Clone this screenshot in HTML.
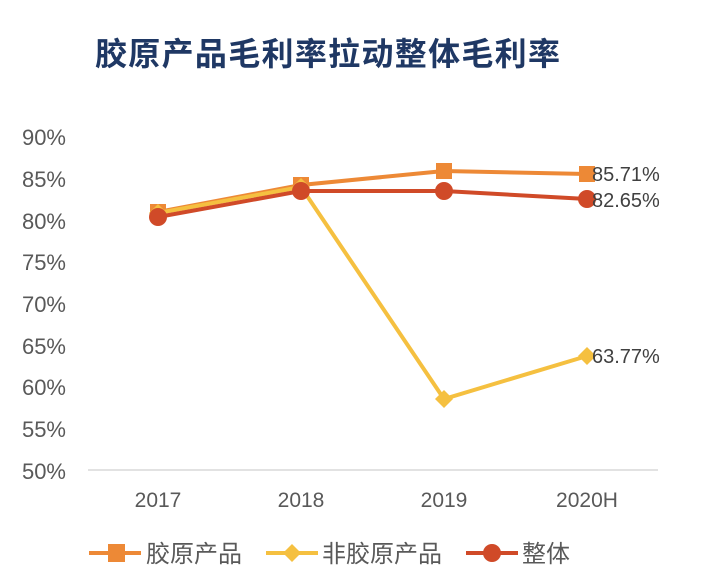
<!DOCTYPE html>
<html><head><meta charset="utf-8"><style>
body{margin:0;background:#fff;}
text{font-family:"Liberation Sans","Noto Sans CJK SC",sans-serif;}
</style></head><body>
<svg width="715" height="580" xmlns="http://www.w3.org/2000/svg">
<rect width="715" height="580" fill="#fff"/>
<text x="95" y="65" font-size="32" font-weight="bold" fill="#1f3864" font-family="'Noto Sans CJK SC',sans-serif" textLength="465">胶原产品毛利率拉动整体毛利率</text>
<g font-size="22" fill="#595959" text-anchor="end">
<text x="66" y="145">90%</text><text x="66" y="187">85%</text><text x="66" y="229">80%</text>
<text x="66" y="270">75%</text><text x="66" y="312">70%</text><text x="66" y="354">65%</text>
<text x="66" y="395">60%</text><text x="66" y="437">55%</text><text x="66" y="479">50%</text>
</g>
<line x1="88" y1="470" x2="658" y2="470" stroke="#d9d9d9" stroke-width="1.5"/>
<g font-size="21" fill="#595959" text-anchor="middle">
<text x="158" y="507">2017</text><text x="301" y="507">2018</text><text x="444" y="507">2019</text><text x="587" y="507">2020H</text>
</g>
<polyline points="158,212 301,185 444,171 587,174" fill="none" stroke="#ed8936" stroke-width="4"/>
<g fill="#ed8936"><rect x="150" y="204" width="16" height="16"/><rect x="293" y="177" width="16" height="16"/><rect x="436" y="163" width="16" height="16"/><rect x="579" y="166" width="16" height="16"/></g>
<polyline points="158,213 301,187 444,399 587,356" fill="none" stroke="#f5c040" stroke-width="4"/>
<g fill="#f5c040"><path d="M158,204 l9,9 -9,9 -9,-9z"/><path d="M301,178 l9,9 -9,9 -9,-9z"/><path d="M444,390 l9,9 -9,9 -9,-9z"/><path d="M587,347 l9,9 -9,9 -9,-9z"/></g>
<polyline points="158,217 301,191 444,191 587,199" fill="none" stroke="#d04a28" stroke-width="4"/>
<g fill="#d04a28"><circle cx="158" cy="217" r="9"/><circle cx="301" cy="191" r="9"/><circle cx="444" cy="191" r="9"/><circle cx="587" cy="199" r="9"/></g>
<g font-size="20" fill="#404040">
<text x="592" y="181">85.71%</text><text x="592" y="207">82.65%</text><text x="592" y="363">63.77%</text>
</g>
<line x1="89" y1="553" x2="141" y2="553" stroke="#ed8936" stroke-width="4"/><rect x="108" y="544" width="17" height="18" fill="#ed8936"/>
<line x1="266" y1="553" x2="318" y2="553" stroke="#f5c040" stroke-width="4"/><path d="M292,544 l9,9 -9,9 -9,-9z" fill="#f5c040"/>
<line x1="466" y1="553" x2="518" y2="553" stroke="#d04a28" stroke-width="4"/><circle cx="492" cy="553" r="9" fill="#d04a28"/>
<g font-size="24" fill="#595959">
<text x="146" y="562">胶原产品</text><text x="322" y="562">非胶原产品</text><text x="522" y="562">整体</text>
</g>
</svg>
</body></html>
